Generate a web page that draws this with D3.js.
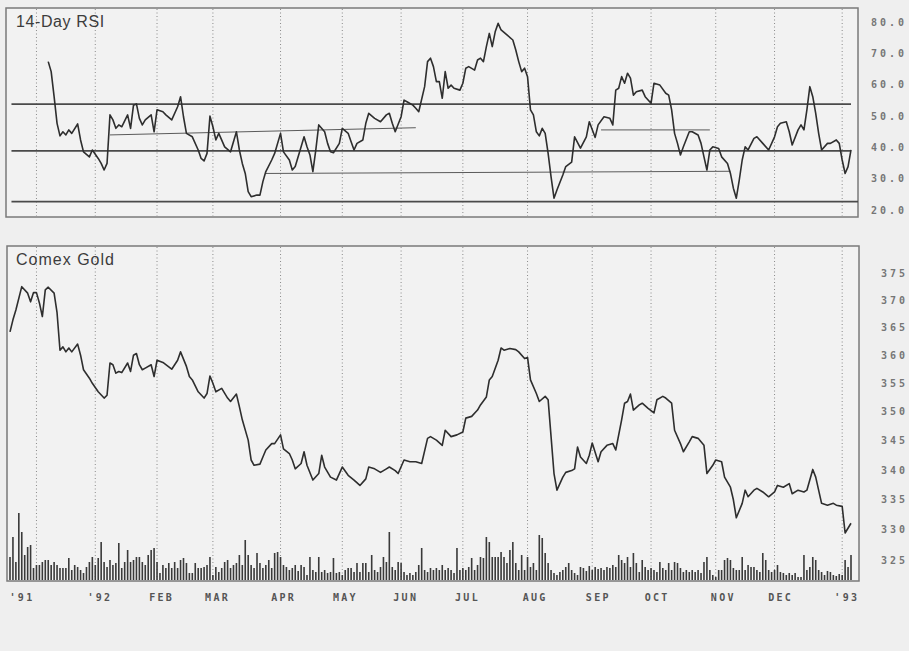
<!DOCTYPE html>
<html>
<head>
<meta charset="utf-8">
<script src="https://cdn.jsdelivr.net/npm/d3@7"></script>
<style>
body { margin: 0; background: #efefef; }
svg { display: block; }
.title { font-family: "Liberation Sans", Arial, sans-serif; font-size: 16px; fill: #3c3c3c; }
.lbl text { font-family: "DejaVu Sans Mono", monospace; font-size: 10px; font-weight: bold; fill: #767676; letter-spacing: 3px; }
.months text { fill: #555; }
</style>
</head>
<body>
<div class="chart"></div>
<script>
// trading-day index (0 = mid Nov 1991) and value
var rsi = [[13,67.2],[14,64.0],[15,56.0],[16,47.5],[17,43.5],[18,44.8],[19,43.8],[20,45.4],[21,44.3],[23,47.3],[24,42.2],[25,38.4],[27,36.8],[28,39.0],[30,36.3],[31,34.7],[32,32.6],[33,34.7],[34,50.2],[35,48.6],[36,45.9],[37,47.0],[38,46.4],[40,50.2],[41,45.9],[42,53.3],[43,53.7],[44,49.1],[45,47.0],[46,48.6],[48,50.2],[49,44.8],[50,51.8],[52,51.2],[53,50.2],[55,48.6],[57,52.8],[58,56.0],[59,49.6],[60,44.3],[62,43.2],[64,39.0],[65,36.3],[66,35.5],[67,37.9],[68,49.8],[69,46.4],[70,42.2],[71,44.3],[73,40.0],[75,38.4],[77,44.8],[78,39.0],[79,34.7],[80,31.5],[81,25.7],[82,24.1],[84,24.6],[85,24.6],[86,28.9],[87,32.1],[89,35.8],[90,37.9],[92,44.3],[93,38.4],[95,35.8],[96,32.6],[97,33.7],[99,40.0],[100,43.2],[101,40.0],[102,37.4],[103,32.1],[104,39.0],[105,47.0],[107,44.8],[108,41.1],[109,38.4],[110,38.1],[112,41.1],[113,45.9],[115,44.3],[116,41.6],[117,39.0],[118,41.1],[120,42.2],[121,47.5],[122,50.7],[124,49.1],[126,48.0],[128,50.2],[129,50.7],[130,47.5],[131,44.8],[133,49.6],[134,54.9],[135,54.4],[137,53.3],[138,52.3],[139,51.2],[141,59.2],[142,67.2],[143,68.3],[144,65.6],[145,60.8],[146,60.8],[147,55.5],[148,64.0],[149,58.7],[150,59.7],[151,58.7],[153,58.1],[154,60.3],[155,65.1],[156,65.6],[158,64.5],[159,67.7],[160,68.3],[161,67.2],[162,72.0],[163,76.2],[164,72.0],[165,76.7],[166,79.4],[167,77.3],[169,75.7],[171,74.1],[172,70.9],[173,67.2],[174,64.0],[175,65.1],[176,62.4],[177,51.8],[178,50.2],[179,44.8],[180,43.5],[181,45.9],[182,44.3],[183,37.9],[184,30.4],[185,23.6],[186,26.2],[188,31.0],[189,33.7],[191,35.1],[192,43.2],[194,39.6],[196,43.2],[197,48.0],[199,43.0],[200,47.0],[202,49.6],[204,49.1],[205,47.0],[206,58.1],[207,58.7],[208,62.4],[209,60.3],[210,63.5],[211,61.9],[212,56.5],[213,57.6],[215,58.1],[216,56.0],[218,53.9],[219,60.3],[221,59.7],[223,57.1],[224,56.5],[225,51.8],[226,44.3],[227,41.1],[228,37.4],[229,40.0],[231,44.8],[232,44.8],[234,43.8],[235,41.1],[236,36.8],[237,32.6],[238,39.0],[239,40.0],[241,39.5],[242,36.8],[244,34.7],[245,31.5],[246,26.8],[247,23.6],[248,29.4],[249,35.8],[250,40.0],[251,39.0],[253,42.7],[254,43.2],[256,41.1],[258,39.0],[260,43.2],[261,46.4],[262,47.5],[264,48.0],[265,44.8],[266,40.6],[268,45.4],[269,47.0],[270,45.4],[271,51.8],[272,59.2],[273,56.0],[274,50.7],[275,44.3],[276,39.0],[278,41.1],[279,41.1],[281,42.2],[282,41.1],[283,35.8],[284,31.5],[285,33.7],[286,39.0]];

var gold = [[0,364.1],[1,366.3],[2,368.1],[4,372.4],[6,371.2],[7,369.6],[8,371.3],[9,371.3],[10,369.4],[11,366.9],[12,371.8],[13,372.3],[15,371.2],[16,367.6],[17,360.8],[18,361.4],[19,360.5],[20,361.2],[21,360.5],[23,361.9],[24,359.9],[25,357.3],[27,355.8],[28,354.9],[30,353.4],[32,352.3],[33,352.8],[34,358.5],[35,358.2],[36,356.7],[37,357.0],[38,356.8],[40,358.5],[41,357.0],[42,359.9],[43,360.2],[44,358.2],[45,357.3],[46,357.6],[48,358.2],[49,356.1],[50,359.0],[52,358.6],[53,358.2],[55,357.4],[57,359.0],[58,360.5],[60,357.9],[61,356.1],[62,355.5],[64,353.4],[66,352.3],[67,353.1],[68,356.2],[69,354.9],[70,353.4],[72,354.0],[74,352.3],[75,351.7],[77,353.0],[78,350.8],[79,348.5],[81,345.0],[82,341.6],[83,340.7],[85,340.9],[86,342.1],[87,343.3],[89,344.4],[90,344.4],[92,345.9],[93,343.5],[95,342.7],[96,341.6],[97,340.1],[99,341.0],[100,343.0],[101,340.7],[103,338.2],[105,339.3],[106,342.4],[107,340.4],[109,338.7],[111,338.2],[113,340.4],[115,339.0],[117,338.2],[119,337.3],[121,338.4],[122,340.4],[124,340.1],[126,339.5],[128,340.1],[129,340.4],[131,339.8],[132,339.3],[134,341.6],[136,341.3],[138,341.3],[140,341.0],[142,345.3],[143,345.6],[145,345.0],[147,344.1],[148,346.7],[150,345.6],[152,345.9],[154,346.4],[155,348.8],[157,349.1],[159,350.2],[160,351.1],[162,352.5],[163,355.5],[164,356.1],[166,359.0],[167,361.2],[168,360.8],[170,361.1],[172,360.9],[173,360.5],[175,359.3],[176,359.5],[177,355.5],[179,353.1],[180,351.7],[182,352.6],[183,352.0],[184,345.6],[185,339.3],[186,336.5],[187,337.6],[188,338.7],[189,339.5],[191,339.8],[192,340.1],[193,343.8],[194,342.1],[196,341.0],[197,342.4],[198,344.5],[200,341.3],[201,343.0],[203,344.1],[205,344.4],[206,343.3],[208,348.5],[209,351.4],[210,351.7],[211,353.0],[212,350.2],[214,351.1],[215,351.4],[217,350.5],[219,349.7],[220,352.0],[222,352.6],[223,352.3],[225,351.4],[226,346.7],[228,344.4],[229,343.0],[231,344.7],[232,345.6],[234,345.3],[236,344.1],[237,339.3],[239,340.7],[240,341.6],[242,341.3],[243,338.7],[245,337.0],[246,334.9],[247,331.9],[249,334.3],[250,336.5],[251,335.4],[253,336.5],[254,336.8],[256,336.2],[258,335.4],[260,336.2],[261,337.3],[263,337.0],[265,337.6],[266,335.9],[268,336.5],[270,336.2],[271,336.5],[273,340.0],[274,338.7],[276,334.3],[278,334.0],[280,334.3],[281,334.0],[283,333.8],[284,329.4],[286,331.0]];

// daily volume, one value per trading day (index 0..286)
var volume = [23,43,18,67,48,25,33,35,12,15,15,18,20,20,15,18,15,12,12,12,
22,10,15,13,10,7,13,18,23,15,22,38,18,13,20,15,17,37,12,18,
30,18,20,23,23,18,15,25,30,32,18,7,15,12,17,12,18,12,20,22,
17,7,7,17,12,12,13,15,23,5,13,8,12,18,20,12,15,17,25,15,
40,25,15,12,27,17,12,15,20,12,27,28,23,15,13,10,12,15,9,
15,13,5,23,10,8,23,8,10,7,8,22,7,8,5,10,12,12,8,17,
8,17,17,8,25,10,8,13,23,18,48,13,10,18,17,8,5,7,5,8,
15,32,10,8,12,10,12,10,15,10,12,10,7,32,10,12,10,13,22,10,
15,23,22,43,38,23,23,23,28,23,17,30,38,17,10,25,10,23,13,17,
10,45,42,27,17,10,7,5,8,10,13,17,10,7,5,13,12,9,14,10,13,11,
12,10,13,12,15,13,25,20,17,23,13,27,17,8,20,13,10,12,10,8,
18,12,10,17,10,18,17,12,8,10,8,10,8,10,7,18,23,10,5,3,
10,10,20,22,20,12,10,10,23,10,15,13,13,10,8,27,20,10,8,10,
15,8,7,5,7,5,7,3,3,25,10,13,23,20,10,8,5,9,8,5,
4,6,5,20,13,25];

var rsiTicks = [20, 30, 40, 50, 60, 70, 80];
var goldTicks = [325, 330, 335, 340, 345, 350, 355, 360, 365, 370, 375];
var rsiLevels = [53.6, 38.7, 22.5];
// [startDay, startValue, endDay, endValue]
var trendLines = [[34, 43.8, 138, 46.1], [87, 31.5, 245, 32.2], [201, 45.4, 238, 45.4]];
var gridDays = [9, 29, 50, 69, 92, 113, 133, 154, 176, 198, 218, 240, 260, 283];
var labelDays = [3.5, 30, 51, 70, 92.5, 113.5, 134, 155, 178, 199.5, 219.5, 242, 261.5, 284];
var monthLabels = ["'91", "'92", "FEB", "MAR", "APR", "MAY", "JUN", "JUL", "AUG", "SEP", "OCT", "NOV", "DEC", "'93"];

var width = 909, height = 651;
var topBox = {x0: 6, y0: 8, x1: 858, y1: 217},
    botBox = {x0: 7, y0: 246, x1: 859, y1: 581};

var svg = d3.select('.chart').append('svg')
    .attr('width', width)
    .attr('height', height);

svg.append('rect').attr('width', width).attr('height', height).attr('fill', '#efefef');

var x = d3.scaleLinear().domain([0, 286]).range([10, 851]);
var yRsi = d3.scaleLinear().domain([20, 80]).range([209.5, 21.5]);
var yGold = d3.scaleLog().domain([325, 375]).range([560, 272.7]);
var yVol = d3.scaleLinear().domain([0, 70]).range([580, 510]);

function panel(b) {
    svg.append('rect')
        .attr('x', b.x0).attr('y', b.y0)
        .attr('width', b.x1 - b.x0).attr('height', b.y1 - b.y0)
        .attr('fill', '#f2f2f2')
        .attr('stroke', '#7a7a7a')
        .attr('stroke-width', 1.5);
    svg.append('g').selectAll('line')
        .data(gridDays).enter()
        .append('line')
        .attr('x1', function(d) { return x(d); })
        .attr('x2', function(d) { return x(d); })
        .attr('y1', b.y0 + 1).attr('y2', b.y1 - 1)
        .attr('stroke', '#8a8a8a')
        .attr('stroke-width', 1)
        .attr('stroke-dasharray', '1,2.5');
}
panel(topBox);
panel(botBox);

// RSI levels and trend lines
svg.append('g').selectAll('line')
    .data(rsiLevels).enter()
    .append('line')
    .attr('x1', x(0.5)).attr('x2', function(d, i) { return i == 2 ? topBox.x1 : x(286); })
    .attr('y1', function(d) { return yRsi(d); })
    .attr('y2', function(d) { return yRsi(d); })
    .attr('stroke', '#4a4a4a')
    .attr('stroke-width', 1.8);

svg.append('g').selectAll('line')
    .data(trendLines).enter()
    .append('line')
    .attr('x1', function(d) { return x(d[0]); })
    .attr('y1', function(d) { return yRsi(d[1]); })
    .attr('x2', function(d) { return x(d[2]); })
    .attr('y2', function(d) { return yRsi(d[3]); })
    .attr('stroke', '#5a5a5a')
    .attr('stroke-width', 1);

var rsiLine = d3.line()
    .x(function(d) { return x(d[0]); })
    .y(function(d) { return yRsi(d[1]); });

svg.append('path')
    .datum(rsi)
    .attr('d', rsiLine)
    .attr('fill', 'none')
    .attr('stroke', '#2e2e2e')
    .attr('stroke-width', 1.6)
    .attr('stroke-linejoin', 'round');

var goldLine = d3.line()
    .x(function(d) { return x(d[0]); })
    .y(function(d) { return yGold(d[1]); });

svg.append('path')
    .datum(gold)
    .attr('d', goldLine)
    .attr('fill', 'none')
    .attr('stroke', '#2e2e2e')
    .attr('stroke-width', 1.6)
    .attr('stroke-linejoin', 'round');

// volume bars
svg.append('g').selectAll('rect')
    .data(volume).enter()
    .append('rect')
    .attr('x', function(d, i) { return x(i) - 0.8; })
    .attr('y', function(d) { return yVol(d); })
    .attr('width', 1.6)
    .attr('height', function(d) { return yVol(0) - yVol(d); })
    .attr('fill', '#3a3a3a');

// titles
svg.append('text').attr('class', 'title')
    .attr('x', 16).attr('y', 26.5)
    .style('letter-spacing', '0.6px')
    .text('14-Day RSI');
svg.append('text').attr('class', 'title')
    .attr('x', 16).attr('y', 265)
    .style('letter-spacing', '1px')
    .text('Comex Gold');

// axes
function cleanAxis(g) {
    g.attr('font-family', null).attr('font-size', null);
    g.select('.domain').remove();
    g.selectAll('.tick line').remove();
}

svg.append('g')
    .attr('class', 'lbl')
    .attr('transform', 'translate(907,0)')
    .call(d3.axisRight(yRsi).tickValues(rsiTicks).tickFormat(d3.format('.1f')).tickSize(0).tickPadding(0))
    .call(cleanAxis)
    .selectAll('text').attr('text-anchor', 'end').attr('dy', '0.36em');

svg.append('g')
    .attr('class', 'lbl')
    .attr('transform', 'translate(908,0)')
    .call(d3.axisRight(yGold).tickValues(goldTicks).tickFormat(d3.format('d')).tickSize(0).tickPadding(0))
    .call(cleanAxis)
    .selectAll('text').attr('text-anchor', 'end').attr('dy', '0.36em');

svg.append('g')
    .attr('class', 'lbl months')
    .attr('transform', 'translate(0,591)')
    .call(d3.axisBottom(x).tickValues(labelDays).tickFormat(function(d, i) { return monthLabels[i]; }).tickSize(0).tickPadding(3))
    .call(cleanAxis)
    .selectAll('text').attr('dx', 1.2).style('letter-spacing', '2.3px');
</script>
</body>
</html>
